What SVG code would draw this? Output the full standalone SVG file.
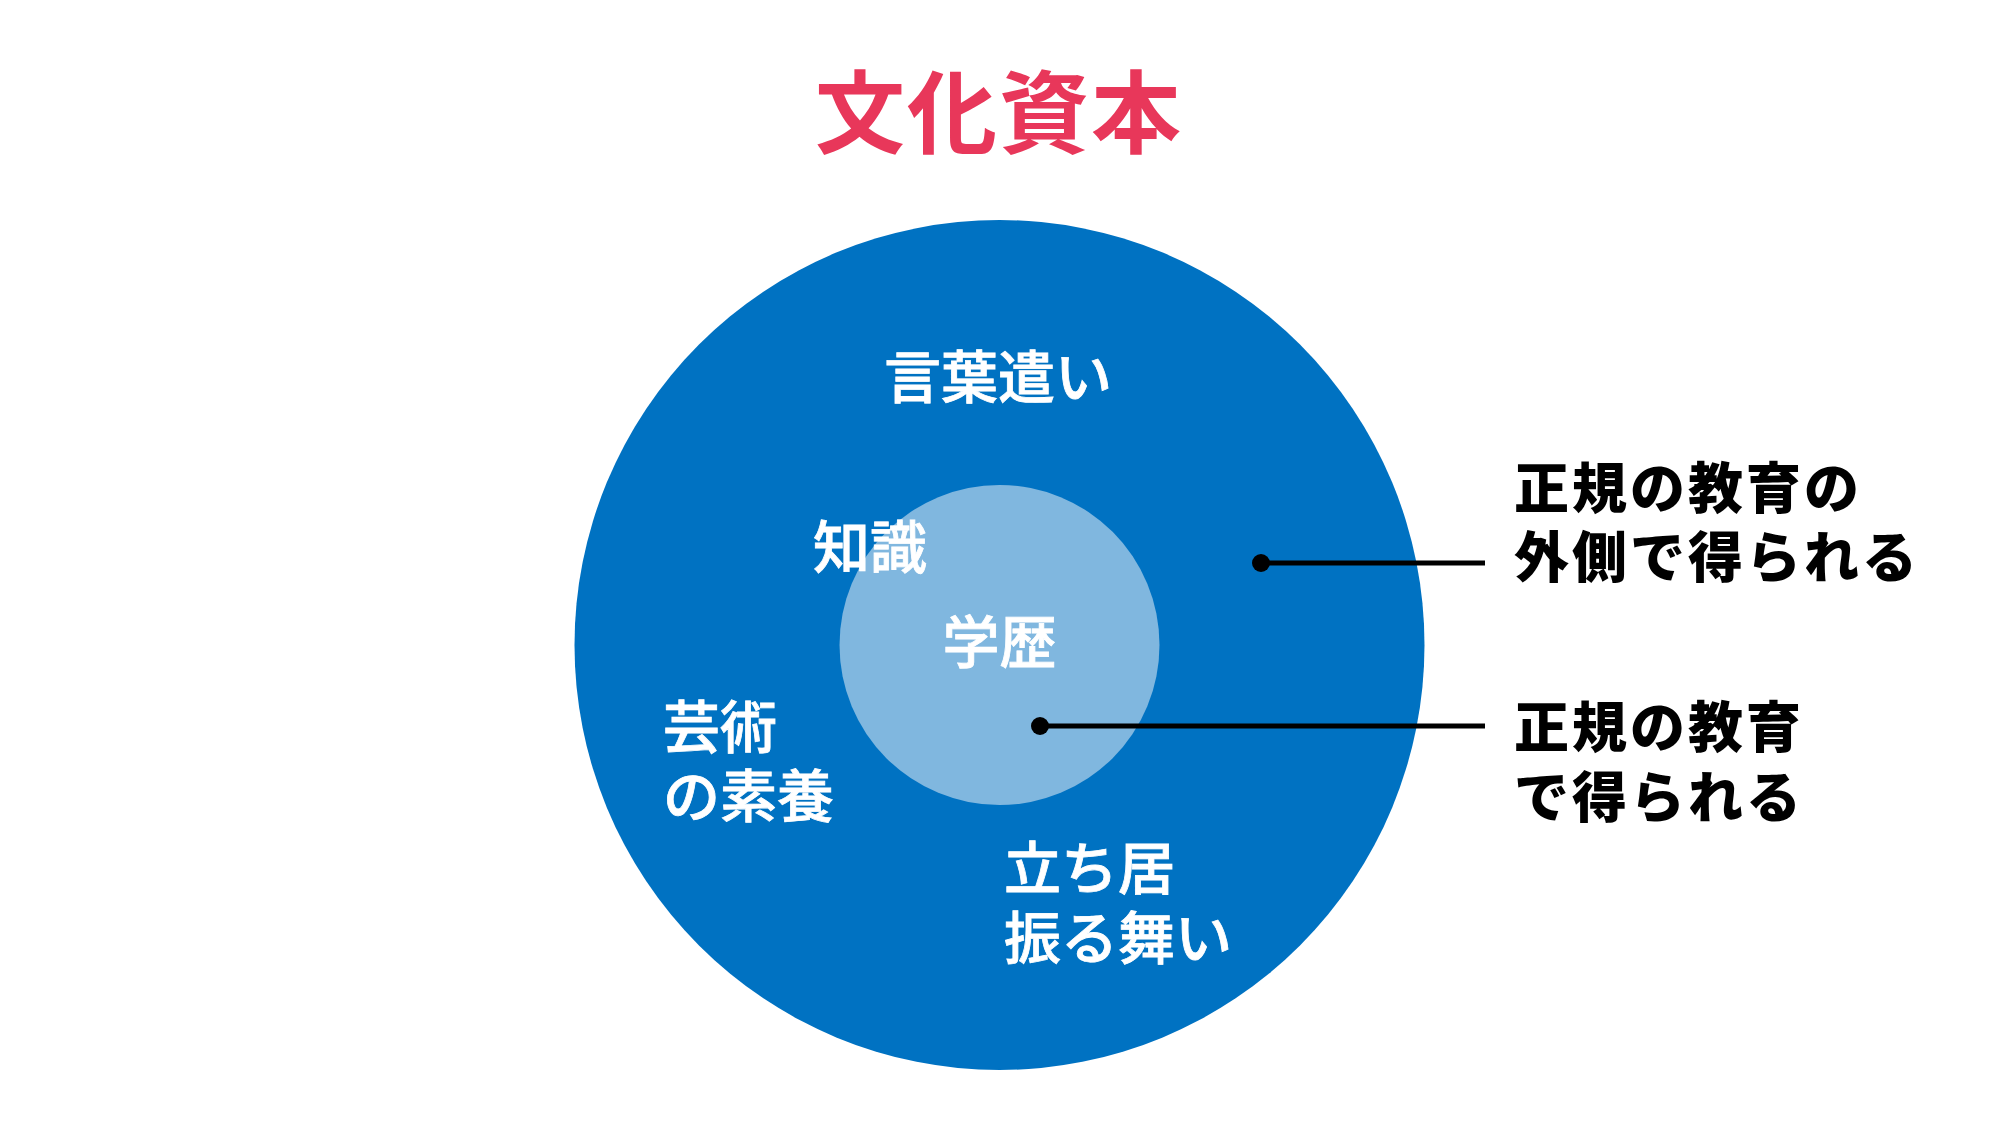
<svg xmlns="http://www.w3.org/2000/svg" width="1999" height="1125" viewBox="0 0 1999 1125">
<style>
.jp{font-family:"Noto Sans CJK JP","Noto Sans CJK SC",sans-serif;}
.title{fill:#E8375A;font-size:90px;font-weight:700;letter-spacing:2px;}
.w{fill:#FFFFFF;font-size:57px;font-weight:500;stroke:#FFFFFF;stroke-width:0.8px;}
.b{fill:#000000;font-size:55px;font-weight:900;letter-spacing:3px;}
.conn{stroke:#000000;stroke-width:5;fill:none;}
.dot{fill:#000000;}
</style>
<rect x="0" y="0" width="1999" height="1125" fill="#FFFFFF"/>
<g id="title">
<text class="jp title" x="999" y="146" text-anchor="middle">文化資本</text>
</g>
<g id="outer">
<circle cx="999.5" cy="645" r="425" fill="#0072C2"/>
</g>
<g id="inner">
<circle cx="999.5" cy="645" r="160" fill="#80B7DF"/>
<text class="jp w" x="999.5" y="663" text-anchor="middle">学歴</text>
</g>
<g id="outer-labels">
<text class="jp w" x="998" y="398" text-anchor="middle">言葉遣い</text>
<text class="jp w" x="870" y="568" text-anchor="middle">知識</text>
<text class="jp w" x="663" y="748">芸術</text>
<text class="jp w" x="663" y="817">の素養</text>
<text class="jp w" x="1004" y="889">立ち居</text>
<text class="jp w" x="1004" y="959">振る舞い</text>
</g>
<g id="connectors">
<line class="conn" x1="1261" y1="563" x2="1485" y2="563"/>
<circle class="dot" cx="1261" cy="563" r="9"/>
<line class="conn" x1="1040" y1="726" x2="1485" y2="726"/>
<circle class="dot" cx="1040" cy="726" r="9"/>
</g>
<g id="label-outside">
<text class="jp b" x="1514" y="508">正規の教育の</text>
<text class="jp b" x="1514" y="577">外側で得られる</text>
</g>
<g id="label-inside">
<text class="jp b" x="1514" y="747">正規の教育</text>
<text class="jp b" x="1514" y="817">で得られる</text>
</g>
</svg>
